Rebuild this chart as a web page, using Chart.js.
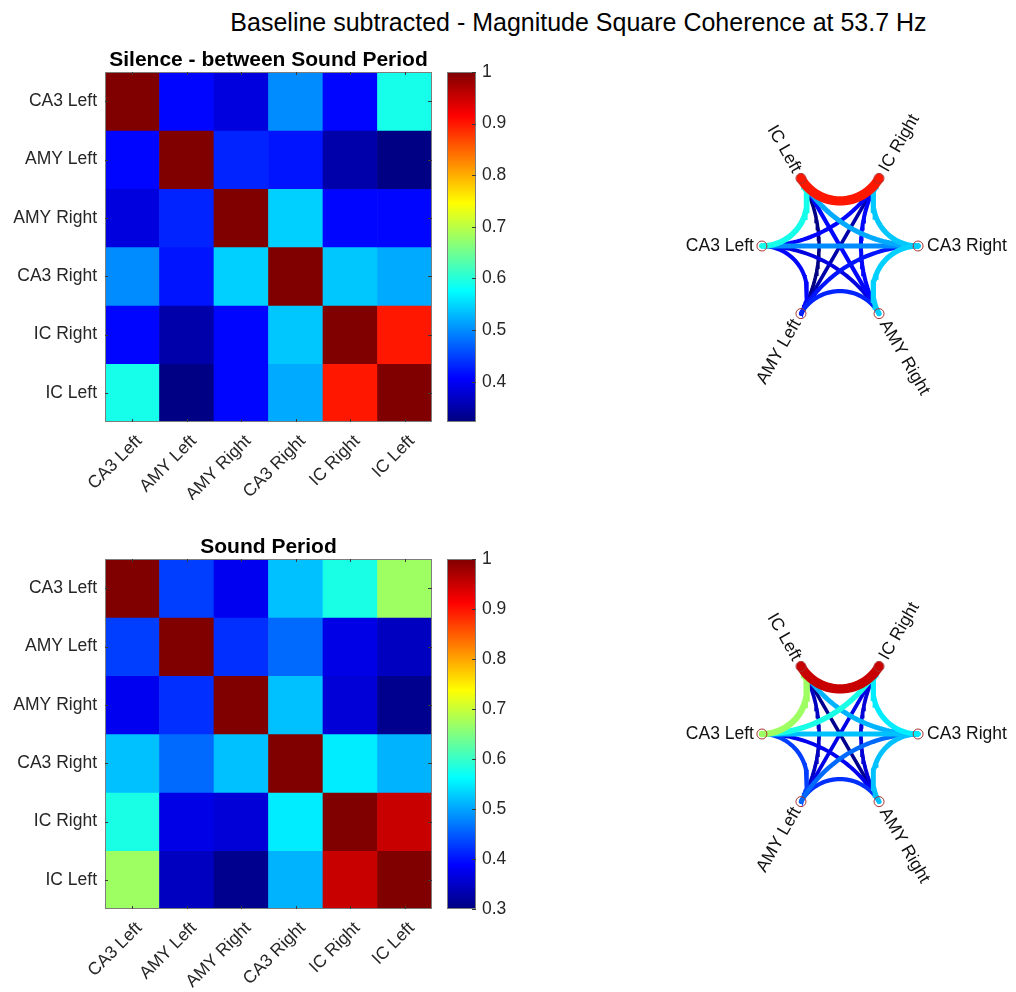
<!DOCTYPE html>
<html>
<head>
<meta charset="utf-8">
<script src="https://cdn.jsdelivr.net/npm/chart.js@4.4.0/dist/chart.umd.min.js"></script>
<style>
  body { margin: 0; background: #fff; width: 1016px; height: 992px; position: relative; overflow: hidden;
         font-family: "Liberation Sans", Arial, sans-serif; }
  canvas { position: absolute; }
  #title { position: absolute; top: 10px; left: 0; width: 1157px; text-align: center;
           font-size: 25px; line-height: 25px; color: #000; }
</style>
</head>
<body>
<div id="title">Baseline subtracted - Magnitude Square Coherence at 53.7 Hz</div>
<canvas id="heatTop" width="440" height="500" style="left:0;top:0"></canvas>
<canvas id="barTop" width="80" height="500" style="left:440px;top:0"></canvas>
<canvas id="circTop" width="400" height="400" style="left:640px;top:46px"></canvas>
<canvas id="heatBot" width="440" height="492" style="left:0;top:500px"></canvas>
<canvas id="barBot" width="80" height="492" style="left:440px;top:500px"></canvas>
<canvas id="circBot" width="400" height="400" style="left:640px;top:534px"></canvas>
<script>
// regions, in matrix order
const regions = ['CA3 Left', 'AMY Left', 'AMY Right', 'CA3 Right', 'IC Right', 'IC Left'];

// magnitude square coherence, baseline subtracted
const silenceCoh = [
  [1.00, 0.41, 0.385, 0.50, 0.41, 0.59],
  [0.41, 1.00, 0.43, 0.42, 0.35, 0.325],
  [0.385, 0.43, 1.00, 0.545, 0.41, 0.41],
  [0.50, 0.42, 0.545, 1.00, 0.54, 0.52],
  [0.41, 0.35, 0.41, 0.54, 1.00, 0.90],
  [0.59, 0.325, 0.41, 0.52, 0.90, 1.00]
];
const soundCoh = [
  [1.00, 0.43, 0.377, 0.52, 0.58, 0.67],
  [0.43, 1.00, 0.42, 0.46, 0.37, 0.345],
  [0.377, 0.42, 1.00, 0.52, 0.36, 0.31],
  [0.52, 0.46, 0.52, 1.00, 0.55, 0.51],
  [0.58, 0.37, 0.36, 0.55, 1.00, 0.95],
  [0.67, 0.345, 0.31, 0.51, 0.95, 1.00]
];

// colour limits of each panel
const silenceLimits = [0.322, 1];
const soundLimits = [0.3, 1];
const colorbarTicks = [0.3, 0.4, 0.5, 0.6, 0.7, 0.8, 0.9, 1];

const FONT = '"Liberation Sans", Arial, sans-serif';
const TXT = '#262626';

function jet(t) {
  const c = v => Math.round(255 * Math.max(0, Math.min(1, v)));
  return 'rgb(' + c(1.5 - Math.abs(4 * t - 3)) + ',' + c(1.5 - Math.abs(4 * t - 2)) + ',' + c(1.5 - Math.abs(4 * t - 1)) + ')';
}
function colorOf(v, lim) {
  return jet((v - lim[0]) / (lim[1] - lim[0]));
}

// box + inward ticks + panel title, matlab style
const axesBox = {
  id: 'axesBox',
  afterDatasetsDraw(chart, args, opts) {
    const { ctx, chartArea: a, scales } = chart;
    ctx.save();
    ctx.strokeStyle = '#7d7d7d';
    ctx.lineWidth = 1;
    ctx.strokeRect(a.left + 0.5, a.top + 0.5, a.width - 1, a.height - 1);
    ctx.strokeStyle = '#3a3a3a';
    ctx.beginPath();
    if (opts.xTicks) {
      scales.x.ticks.forEach((t, i) => {
        const px = Math.round(scales.x.getPixelForTick(i)) + 0.5;
        ctx.moveTo(px, a.top); ctx.lineTo(px, a.top + 3);
        ctx.moveTo(px, a.bottom); ctx.lineTo(px, a.bottom - 3);
      });
    }
    scales.y.ticks.forEach(t => {
      const py = Math.round(scales.y.getPixelForValue(t.value)) + 0.5;
      if (opts.leftTicks) { ctx.moveTo(a.left, py); ctx.lineTo(a.left + 3, py); }
      ctx.moveTo(a.right, py); ctx.lineTo(a.right - 4, py);
    });
    ctx.stroke();
    if (opts.title) {
      ctx.fillStyle = '#000';
      ctx.font = 'bold 21px ' + FONT;
      ctx.textAlign = 'center';
      ctx.textBaseline = 'alphabetic';
      ctx.fillText(opts.title, (a.left + a.right) / 2, a.top - 6);
    }
    ctx.restore();
  }
};

function heatmap(id, matrix, lim, title, padTop, xHeight) {
  new Chart(document.getElementById(id), {
    type: 'bar',
    data: {
      labels: regions,
      // one stacked dataset per row, each cell one unit tall, coloured by its value
      datasets: matrix.map((row, r) => ({
        label: regions[r],
        data: row.map(() => 1),
        backgroundColor: row.map(v => colorOf(v, lim)),
        borderWidth: 0,
        barPercentage: 1,
        categoryPercentage: 1
      }))
    },
    options: {
      responsive: false,
      animation: false,
      devicePixelRatio: 1,
      layout: { padding: { top: padTop, right: 8, left: 0, bottom: 0 } },
      plugins: { legend: { display: false }, tooltip: { enabled: false },
                 axesBox: { title: title, xTicks: true, leftTicks: true } },
      scales: {
        x: {
          stacked: true,
          grid: { display: false, drawTicks: false },
          border: { display: false },
          ticks: { autoSkip: false, maxRotation: 45, minRotation: 45, padding: 9, labelOffset: 7,
                   color: TXT, font: { family: FONT, size: 17.5 } },
          afterFit(s) { s.height = xHeight; }
        },
        y: {
          stacked: true,
          reverse: true,
          min: 0,
          max: regions.length,
          grid: { display: false, drawTicks: false },
          border: { display: false },
          afterBuildTicks(s) { s.ticks = regions.map((_, i) => ({ value: i + 0.5 })); },
          ticks: { padding: 8, color: TXT, font: { family: FONT, size: 17.5 },
                   callback: (v, i) => regions[i] },
          afterFit(s) { s.width = 105; }
        }
      }
    },
    plugins: [axesBox]
  });
}

function colorbar(id, lim, padTop, padBottom) {
  new Chart(document.getElementById(id), {
    type: 'bar',
    data: {
      labels: [''],
      datasets: [{
        data: [[lim[0], lim[1]]],
        barPercentage: 1,
        categoryPercentage: 1,
        borderWidth: 0,
        backgroundColor(c) {
          const chart = c.chart;
          if (!chart.chartArea) return 'transparent';
          const ys = chart.scales.y;
          const g = chart.ctx.createLinearGradient(0, ys.getPixelForValue(lim[0]), 0, ys.getPixelForValue(lim[1]));
          for (let k = 0; k <= 8; k++) g.addColorStop(k / 8, jet(k / 8));
          return g;
        }
      }]
    },
    options: {
      responsive: false,
      animation: false,
      devicePixelRatio: 1,
      layout: { padding: { top: padTop, bottom: padBottom, left: 7, right: 0 } },
      plugins: { legend: { display: false }, tooltip: { enabled: false }, axesBox: {} },
      scales: {
        x: { display: false },
        y: {
          position: 'right',
          min: lim[0],
          max: lim[1],
          grid: { display: false, drawTicks: false },
          border: { display: false },
          afterBuildTicks(s) {
            s.ticks = colorbarTicks.filter(v => v >= lim[0] - 1e-9).map(v => ({ value: v }));
          },
          ticks: { padding: 6, color: TXT, font: { family: FONT, size: 17.5 },
                   callback: v => String(Math.round(v * 10) / 10) },
          afterFit(s) { s.width = 44; }
        }
      }
    },
    plugins: [axesBox]
  });
}

// circular graph: nodes on the unit circle, CA3 Left at 180 deg, going counter-clockwise
const nodeAngle = i => Math.PI + i * Math.PI / 3;

function edgePath(i, j) {
  const a = nodeAngle(i), b = nodeAngle(j);
  const u = [Math.cos(a), Math.sin(a)], v = [Math.cos(b), Math.sin(b)];
  const dot = u[0] * v[0] + u[1] * v[1];
  if (dot < -0.999) return [{ x: u[0], y: u[1] }, { x: v[0], y: v[1] }];
  // arc of the circle orthogonal to the unit circle through both nodes
  const d = Math.acos(dot);
  const m = Math.atan2(u[1] + v[1], u[0] + v[0]);
  const cd = 1 / Math.cos(d / 2);
  const c = [cd * Math.cos(m), cd * Math.sin(m)];
  const r = Math.tan(d / 2);
  const au = Math.atan2(u[1] - c[1], u[0] - c[0]);
  let dv = Math.atan2(v[1] - c[1], v[0] - c[0]) - au;
  while (dv > Math.PI) dv -= 2 * Math.PI;
  while (dv < -Math.PI) dv += 2 * Math.PI;
  const pts = [];
  for (let k = 0; k <= 40; k++) {
    const t = au + dv * k / 40;
    pts.push({ x: c[0] + r * Math.cos(t), y: c[1] + r * Math.sin(t) });
  }
  return pts;
}

const nodeLabels = {
  id: 'nodeLabels',
  afterDatasetsDraw(chart) {
    const { ctx, scales: { x, y } } = chart;
    ctx.save();
    ctx.fillStyle = '#111';
    ctx.font = '17.5px ' + FONT;
    ctx.textBaseline = 'middle';
    regions.forEach((name, i) => {
      const a = nodeAngle(i);
      const left = Math.cos(a) < 0;
      ctx.save();
      ctx.translate(x.getPixelForValue(Math.cos(a)), y.getPixelForValue(Math.sin(a)));
      ctx.rotate(-(left ? a + Math.PI : a));
      ctx.textAlign = left ? 'right' : 'left';
      ctx.fillText(name, left ? -8 : 9, 0);
      ctx.restore();
    });
    ctx.restore();
  }
};

function circularGraph(id, matrix, lim) {
  const edges = [];
  for (let i = 0; i < regions.length; i++)
    for (let j = i + 1; j < regions.length; j++) edges.push({ i, j, v: matrix[i][j] });
  const vs = edges.map(e => e.v);
  const lo = Math.min(...vs), hi = Math.max(...vs);
  const datasets = edges.map(e => ({
    data: edgePath(e.i, e.j),
    showLine: true,
    pointRadius: 0,
    tension: 0,
    borderColor: colorOf(e.v, lim),
    borderWidth: 3.6 + 5.8 * Math.pow((e.v - lo) / (hi - lo), 1.3),
    borderCapStyle: 'round',
    order: -e.v
  }));
  datasets.push({
    data: regions.map((_, i) => ({ x: Math.cos(nodeAngle(i)), y: Math.sin(nodeAngle(i)) })),
    showLine: false,
    pointRadius: 5,
    pointBorderWidth: 1,
    pointBorderColor: '#a83232',
    pointBackgroundColor: 'rgba(0,0,0,0)',
    order: -10
  });
  const R = 200 / 80.5;
  new Chart(document.getElementById(id), {
    type: 'scatter',
    data: { datasets },
    options: {
      responsive: false,
      animation: false,
      devicePixelRatio: 1,
      layout: { padding: 0 },
      plugins: { legend: { display: false }, tooltip: { enabled: false } },
      scales: {
        x: { display: false, min: -R, max: R },
        y: { display: false, min: -R, max: R }
      }
    },
    plugins: [nodeLabels]
  });
}

heatmap('heatTop', silenceCoh, silenceLimits, 'Silence - between Sound Period', 72, 78);
colorbar('barTop', silenceLimits, 72, 78);
circularGraph('circTop', silenceCoh, silenceLimits);

heatmap('heatBot', soundCoh, soundLimits, 'Sound Period', 59, 83);
colorbar('barBot', soundLimits, 59, 83);
circularGraph('circBot', soundCoh, soundLimits);
</script>
</body>
</html>
